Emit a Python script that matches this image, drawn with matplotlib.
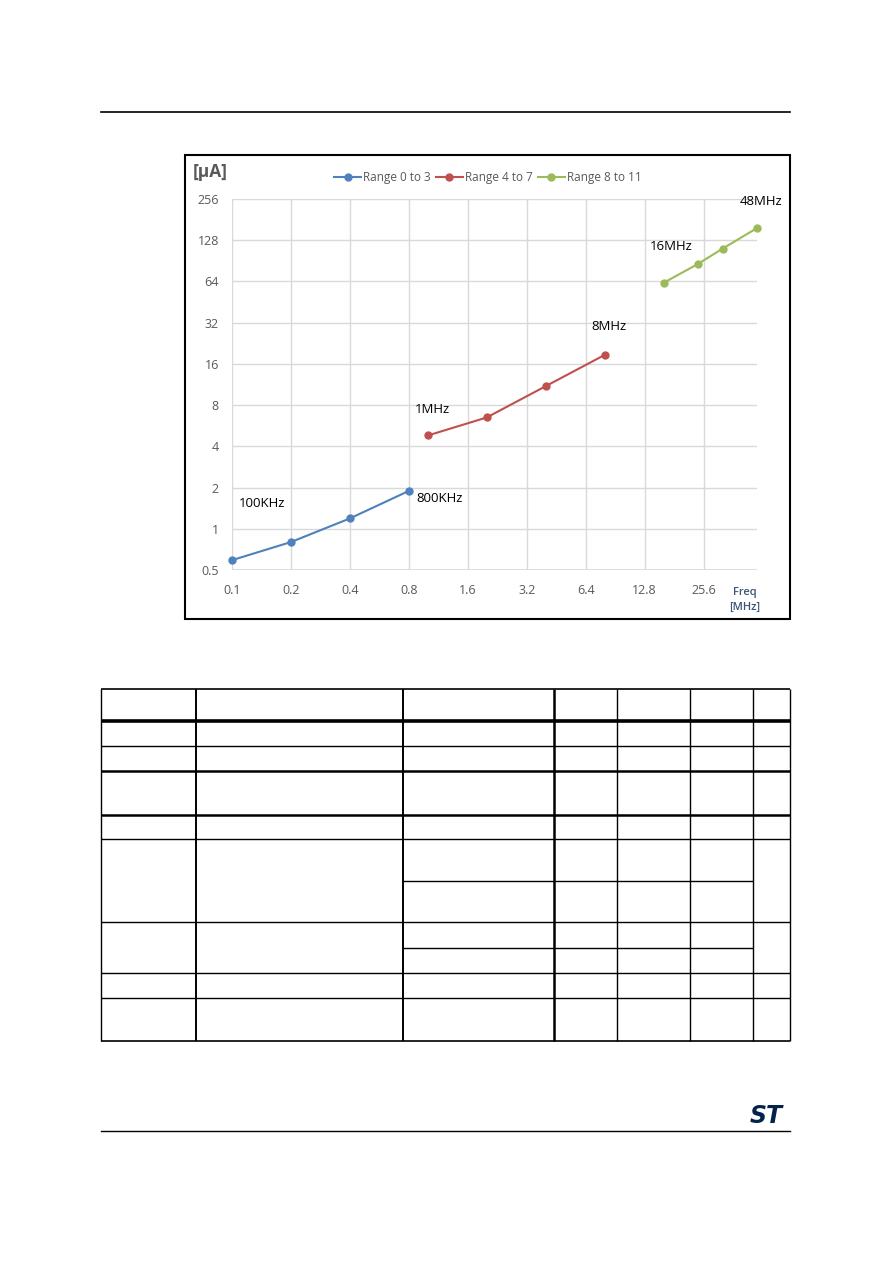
import numpy as np
import matplotlib
matplotlib.use('Agg')
from matplotlib import pyplot as plt

# data
freq_r0 = [0.1, 0.2, 0.4, 0.8]
curr_r0 = [0.59, 0.80, 1.19, 1.89]
freq_r1 = [1, 2, 4, 8]
curr_r1 = [4.8, 6.5, 11.0, 18.6]
freq_r2 = [16, 24, 32, 48]
curr_r2 = [62.5, 86, 111, 157]

series_names = ['Range 0 to 3', 'Range 4 to 7', 'Range 8 to 11']
series_colors = ['#4F81BD', '#C0504D', '#9BBB59']

x_ticks = [0.1, 0.2, 0.4, 0.8, 1.6, 3.2, 6.4, 12.8, 25.6]
x_labels = ['0.1', '0.2', '0.4', '0.8', '1.6', '3.2', '6.4', '12.8', '25.6']
y_ticks = [0.5, 1, 2, 4, 8, 16, 32, 64, 128, 256]
y_labels = ['0.5', '1', '2', '4', '8', '16', '32', '64', '128', '256']

# label text, anchor point, offset in pixels
notes = [
    ('100KHz', 0.1, 0.59, 7, 57),
    ('800KHz', 0.8, 1.89, 8, -8),
    ('1MHz', 1, 4.8, -13, 26),
    ('8MHz', 8, 18.6, -13, 28),
    ('16MHz', 16, 62.5, -14, 36),
    ('48MHz', 48, 157, -17, 27),
]

W, H = 892, 1263
plt.rcParams['font.family'] = ['Open Sans', 'DejaVu Sans']
fig = plt.figure(figsize=(W / 100, H / 100), dpi=100)

# page layer in pixel coordinates
page = fig.add_axes([0, 0, 1, 1])
page.set_xlim(0, W)
page.set_ylim(H, 0)
page.axis('off')

# page rules
page.plot([101, 790], [112, 112], color='black', lw=1.2)
page.plot([101, 790], [1131, 1131], color='black', lw=1.0)

# chart frame
page.add_patch(plt.Rectangle((185, 155), 605, 464, fill=False, ec='black', lw=1.5))

# empty table
cols = [101, 196, 403, 554, 617, 690, 753, 790]
col_w = [1.0, 1.4, 1.4, 1.8, 1.0, 1.0, 1.0, 1.0]
row_lines = [
    (689, 101, 790, 1.2),
    (721, 101, 790, 2.6),
    (746, 101, 790, 1.0),
    (771, 101, 790, 1.8),
    (815, 101, 790, 1.8),
    (839, 101, 790, 1.0),
    (881, 403, 753, 1.0),
    (922, 101, 790, 1.0),
    (948, 403, 753, 1.0),
    (973, 101, 790, 1.0),
    (998, 101, 790, 1.0),
    (1041, 101, 790, 1.2),
]
for y, x0, x1, lw in row_lines:
    page.plot([x0, x1], [y, y], color='black', lw=lw, solid_capstyle='butt')
for x, lw in zip(cols, col_w):
    page.plot([x, x], [689, 1041], color='black', lw=lw, solid_capstyle='butt')

# logo
page.text(766, 1116, 'ST', color='#03234B', fontsize=17, fontweight='bold',
          style='italic', ha='center', va='center', family='DejaVu Sans')

# chart area
ax = fig.add_axes([232 / W, 1 - 570 / H, 525 / W, 371 / H])
ax.set_xscale('log', base=2)
ax.set_yscale('log', base=2)
ax.set_xlim(0.1, 48)
ax.set_ylim(0.5, 256)
ax.set_xticks(x_ticks)
ax.set_xticklabels(x_labels)
ax.set_yticks(y_ticks)
ax.set_yticklabels(y_labels)
ax.minorticks_off()
ax.tick_params(length=0, labelsize=9, labelcolor='#595959')
ax.tick_params(axis='x', pad=10)
ax.tick_params(axis='y', pad=9.5)
ax.grid(True, color='#D9D9D9', lw=1)
ax.set_axisbelow(True)
for s in ax.spines.values():
    s.set_visible(False)
ax.axhline(0.5, color='#D9D9D9', lw=1.2)

for fx, cy, name, col in zip([freq_r0, freq_r1, freq_r2], [curr_r0, curr_r1, curr_r2],
                             series_names, series_colors):
    ax.plot(fx, cy, '-o', color=col, lw=1.5, ms=5, label=name, clip_on=False)

for txt, x, y, dx, dy in notes:
    ax.annotate(txt, xy=(x, y), xytext=(dx, dy), textcoords='offset pixels',
                ha='left', va='center', fontsize=9.5, color='black')

fig.legend(loc='center', bbox_to_anchor=(488 / W, 1 - 178 / H), ncol=3, frameon=False,
           fontsize=8.5, labelcolor='#595959', handlelength=2.3, handletextpad=0.2,
           columnspacing=0.4, borderpad=0)

page.text(193, 172, '[µA]', fontsize=12.5, fontweight='bold', color='#595959',
          ha='left', va='center')
page.text(745, 592, 'Freq', fontsize=8, fontweight='semibold', color='#3B5573',
          ha='center', va='center')
page.text(745, 607, '[MHz]', fontsize=8, fontweight='semibold', color='#3B5573',
          ha='center', va='center')

fig.savefig('out.png', dpi=100)
